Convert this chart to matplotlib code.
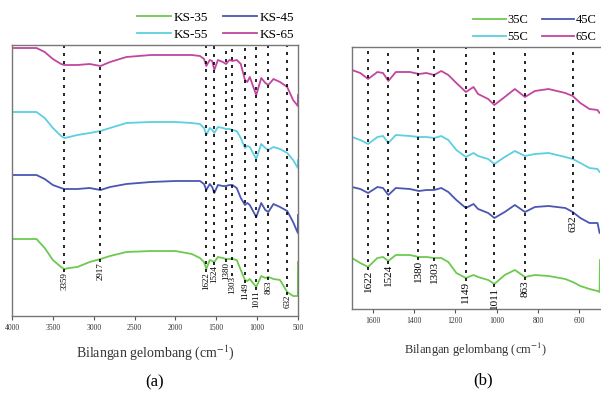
import numpy as np
import matplotlib
matplotlib.use('Agg')
import matplotlib.pyplot as plt

plt.rcParams['font.family'] = ['Liberation Serif', 'DejaVu Serif']
plt.rcParams['mathtext.fontset'] = 'stix'

# ---- panel (a): full range spectra (arbitrary transmittance, offset) ----
wn_a = [4000, 3700, 3600, 3500, 3400, 3359, 3300, 3200, 3050, 2917, 2800, 2600, 2300,
        2000, 1800, 1700, 1650, 1622, 1580, 1550, 1524, 1480, 1420, 1380, 1340, 1303,
        1250, 1200, 1149, 1120, 1090, 1011, 950, 900, 863, 800, 720, 632, 560, 502, 500]
ks65 = [282, 282, 278, 271, 266, 265, 265, 265, 266, 264, 268, 273, 275,
        275, 275, 274, 271, 264, 270, 269, 260, 270, 268, 266, 270, 269,
        270, 266, 250, 248, 253, 235, 252, 247, 245, 251, 248, 243, 230, 224, 235]
ks55 = [218, 218, 212, 202, 194, 192, 193, 195, 197, 199, 202, 207, 208,
        208, 207, 206, 202, 195, 202, 200, 197, 203, 202, 201, 201, 200,
        199, 192, 182, 184, 183, 171, 186, 182, 180, 183, 181, 177, 170, 162, 170]
ks45 = [155, 155, 151, 145, 142, 141, 141, 141, 142, 140, 143, 146, 148,
        149, 149, 149, 146, 140, 146, 143, 137, 145, 144, 144, 145, 145,
        142, 132, 125, 127, 125, 113, 127, 120, 118, 126, 123, 119, 108, 97, 115]
ks35 = [91, 91, 82, 70, 63, 61, 62, 63, 68, 71, 74, 78, 79,
        79, 76, 72, 68, 61, 70, 69, 68, 73, 72, 71, 71, 71,
        70, 60, 50, 49, 51, 43, 54, 52, 53, 51, 50, 38, 34, 34, 68]
peaks_a = [3359, 2917, 1622, 1524, 1380, 1303, 1149, 1011, 863, 632]
ticks_a = [4000, 3500, 3000, 2500, 2000, 1500, 1000, 500]

# ---- panel (b): fingerprint region ----
wn_b = [1700, 1660, 1622, 1577, 1550, 1524, 1488, 1420, 1376, 1340, 1303, 1268, 1234,
        1195, 1149, 1112, 1090, 1041, 1011, 961, 912, 863, 815, 749, 668, 632, 595,
        551, 512, 502, 500]
c65 = [260, 257, 251, 258, 257, 249, 258, 258, 256, 257, 255, 259, 255,
       247, 238, 243, 236, 231, 225, 233, 241, 233, 239, 241, 237, 234, 227,
       221, 220, 217, 217]
c55 = [193, 190, 186, 193, 194, 187, 195, 194, 193, 193, 192, 194, 190,
       180, 173, 177, 174, 171, 166, 173, 179, 174, 176, 177, 173, 171, 167,
       162, 161, 158, 158]
c45 = [143, 141, 137, 143, 142, 135, 142, 141, 139, 140, 140, 142, 138,
       130, 122, 126, 121, 117, 112, 118, 125, 118, 123, 124, 122, 118, 112,
       107, 107, 97, 97]
c35 = [72, 67, 63, 72, 73, 69, 75, 75, 73, 73, 72, 72, 68,
       57, 52, 55, 53, 50, 46, 55, 60, 53, 55, 54, 51, 48, 44,
       41, 39, 38, 70]
peaks_b = [1622, 1524, 1380, 1303, 1149, 1011, 863, 632]
ticks_b = [1600, 1400, 1200, 1000, 800, 600]

colors = ['#6dc94f', '#4b56b3', '#5dcfe0', '#c2469f']

fig = plt.figure(figsize=(6.01, 3.96), dpi=100)
W, H = 601, 396
ax_a = fig.add_axes([12 / W, 1 - 316 / H, 286 / W, 271 / H])
ax_b = fig.add_axes([352 / W, 1 - 309 / H, 248 / W, 262 / H])


def style(ax, ticks):
    for s in ax.spines.values():
        s.set_color('#777777')
        s.set_linewidth(1.0)
    ax.set_yticks([])
    ax.set_xticks(ticks)
    ax.tick_params(axis='x', direction='out', length=3, width=0.8, color='#555555',
                   labelsize=5.5, labelcolor='#333333', pad=3)


def draw_peaks(ax, peaks, anchors, drops, wn, ytop, fs):
    for p, curve, d in zip(peaks, anchors, drops):
        y0 = np.interp(p, wn[::-1], curve[::-1]) - 3 - d
        ax.vlines(p, y0, ytop, colors='black', linewidth=1.2, linestyles=(0, (1.8, 3)))
        ax.text(p, y0, str(p), rotation=90, ha='center', va='top', fontsize=fs)


def legend(ax, order, pad, fs):
    h, l = ax.get_legend_handles_labels()
    ax.legend([h[i] for i in order], [l[i] for i in order], ncol=2, loc='lower right',
              bbox_to_anchor=(1.0, 1.0), frameon=False, fontsize=fs, handlelength=2.6,
              handletextpad=pad, columnspacing=1.1, labelspacing=0.4,
              borderaxespad=0.2, borderpad=0.1)


# panel (a)
labels_a = ['KS-35', 'KS-45', 'KS-55', 'KS-65']
for data, c, lab in zip([ks35, ks45, ks55, ks65], colors, labels_a):
    ax_a.plot(wn_a, data, color=c, lw=1.3, label=lab)
ax_a.set_xlim(4000, 500)
ax_a.set_ylim(14, 285)
style(ax_a, ticks_a)
drops_a = [0, 0, 0, 0, 0, 14, 0, 0, 0, 0]
draw_peaks(ax_a, peaks_a, [ks35] * len(peaks_a), drops_a, np.array(wn_a), 285, 6.5)
ax_a.set_xlabel('Bilangan gelombang (cm$^{-1}$)', fontsize=10, labelpad=8, color='#333333')
legend(ax_a, [0, 2, 1, 3], 0.2, 9.5)

# panel (b)
labels_b = ['35C', '45C', '55C', '65C']
for data, c, lab in zip([c35, c45, c55, c65], colors, labels_b):
    ax_b.plot(wn_b, data, color=c, lw=1.3, label=lab)
ax_b.set_xlim(1700, 500)
ax_b.set_ylim(21, 283)
style(ax_b, ticks_b)
ax_b.spines['right'].set_visible(False)
drops_b = [0] * len(peaks_b)
draw_peaks(ax_b, peaks_b, [c35] * 7 + [c45], drops_b, np.array(wn_b), 283, 8)
ax_b.set_xlabel('Bilangan gelombang (cm$^{-1}$)', fontsize=9, labelpad=11, color='#333333')
legend(ax_b, [0, 2, 1, 3], 0.1, 9)

fig.text(155 / W, 1 - 382 / H, '(a)', ha='center', va='center', fontsize=12)
fig.text(483 / W, 1 - 380 / H, '(b)', ha='center', va='center', fontsize=12)

fig.savefig('out.png', dpi=100)
